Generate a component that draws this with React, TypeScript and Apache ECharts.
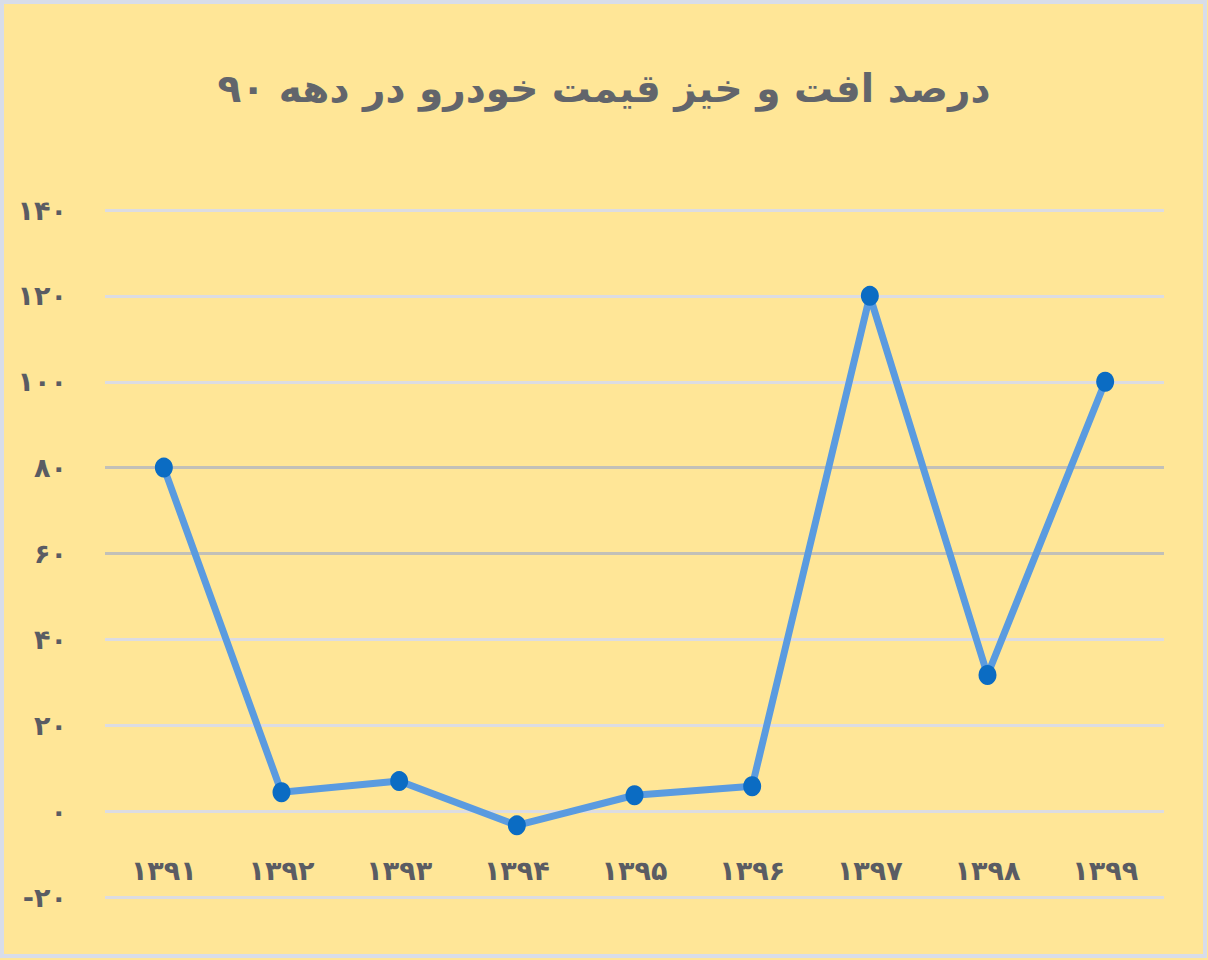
import React, { useEffect, useRef } from "react";
import * as echarts from "echarts";

const titleText = "درصد افت و خیز قیمت خودرو در دهه ۹۰";
const categories = ["۱۳۹۱", "۱۳۹۲", "۱۳۹۳", "۱۳۹۴", "۱۳۹۵", "۱۳۹۶", "۱۳۹۷", "۱۳۹۸", "۱۳۹۹"];
const values = [80, 4.4, 7, -3.3, 3.7, 5.8, 120, 31.7, 100];
const yTickValues = [-20, 0, 20, 40, 60, 80, 100, 120, 140];
const yTickLabels = ["-۲۰", "۰", "۲۰", "۴۰", "۶۰", "۸۰", "۱۰۰", "۱۲۰", "۱۴۰"];

export default function App() {
  const ref = useRef<HTMLDivElement>(null);
  useEffect(() => {
    if (!ref.current) return;
    const chart = echarts.init(ref.current, undefined, { renderer: "svg" });
    const font = "'DejaVu Sans', sans-serif";
    const gridColors = yTickValues.map((v) => (v === 60 || v === 80 ? "#c2c0b8" : "#dcdce2"));
    chart.setOption({
      animation: false,
      backgroundColor: "#ffe697",
      graphic: [
        {
          type: "rect",
          shape: { x: 2, y: 2, width: 1203, height: 954 },
          style: { fill: "none", stroke: "#d8dde9", lineWidth: 4 },
          silent: true,
        },
      ],
      title: {
        text: titleText,
        left: "center",
        top: 64,
        textStyle: { fontFamily: font, fontSize: 39, fontWeight: "bold", color: "#62656b" },
      },
      grid: { left: 105, right: 44, top: 210, bottom: 63, containLabel: false },
      xAxis: {
        type: "category",
        data: categories,
        boundaryGap: true,
        axisLine: { show: false },
        axisTick: { show: false },
        axisLabel: {
          margin: -40,
          fontFamily: font,
          fontSize: 27,
          fontWeight: "bold",
          color: "#5a5c63",
        },
      },
      yAxis: {
        type: "value",
        min: -20,
        max: 140,
        interval: 20,
        axisLine: { show: false },
        axisTick: { show: false },
        splitLine: { lineStyle: { color: gridColors, width: 3 } },
        axisLabel: {
          margin: 38,
          fontFamily: font,
          fontSize: 27,
          fontWeight: "bold",
          color: "#5a5c63",
          verticalAlign: "middle",
          padding: [0, 0, 14, 0],
          formatter: (v: number) => yTickLabels[yTickValues.indexOf(v)] ?? String(v),
        },
      },
      series: [
        {
          type: "line",
          data: values,
          symbol: "circle",
          symbolSize: [18, 20],
          lineStyle: { color: "#5a9be0", width: 7 },
          itemStyle: { color: "#0b6cc3" },
        },
      ],
    });
    return () => chart.dispose();
  }, []);
  return (
    <div style={{ position: "absolute", left: 0, top: 0, width: 1208, height: 960 }}>
      <div ref={ref} style={{ width: 1208, height: 960 }} />
    </div>
  );
}
